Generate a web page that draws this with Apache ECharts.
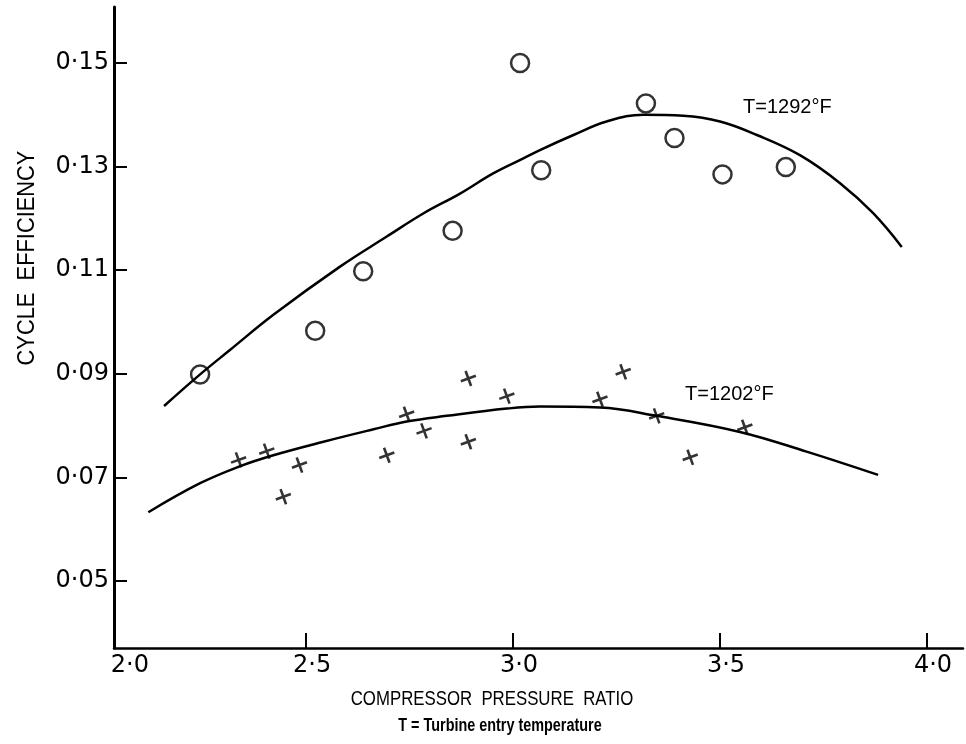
<!DOCTYPE html>
<html>
<head>
<meta charset="utf-8">
<script src="https://cdn.jsdelivr.net/npm/echarts@6/dist/echarts.min.js"></script>
<style>
  html, body { margin: 0; padding: 0; background: #fff; }
  #chart { width: 966px; height: 744px; }
</style>
</head>
<body>
<div id="chart"></div>
<script>
// measured points, T = 1292 F (circles)
const circleX = [2.244, 2.522, 2.638, 2.854, 3.017, 3.068, 3.321, 3.390, 3.506, 3.659];
const circleY = [0.0899, 0.0983, 0.1098, 0.1176, 0.1500, 0.1293, 0.1422, 0.1355, 0.1285, 0.1299];

// measured points, T = 1202 F (crosses)
const crossX = [2.337, 2.405, 2.445, 2.484, 2.695, 2.743, 2.785, 2.892, 2.892, 2.985, 3.210, 3.266, 3.347, 3.428, 3.560];
const crossY = [0.0734, 0.0751, 0.0663, 0.0724, 0.0743, 0.0822, 0.0790, 0.0891, 0.0769, 0.0857, 0.0851, 0.0904, 0.0819, 0.0739, 0.0797];

// faired curves
const curve1292X = [2.157, 2.244, 2.316, 2.421, 2.582, 2.695, 2.784, 2.872, 2.952, 3.025, 3.065, 3.146, 3.226, 3.315, 3.411, 3.500, 3.589, 3.693, 3.790, 3.870, 3.939];
const curve1292Y = [0.0838, 0.0899, 0.0946, 0.1014, 0.1107, 0.1165, 0.1210, 0.1248, 0.1287, 0.1316, 0.1332, 0.1361, 0.1387, 0.1400, 0.1398, 0.1387, 0.1361, 0.1322, 0.1268, 0.1210, 0.1145];
const curve1202X = [2.119, 2.244, 2.341, 2.421, 2.542, 2.663, 2.743, 2.840, 2.985, 3.065, 3.210, 3.347, 3.548, 3.709, 3.882];
const curve1202Y = [0.0633, 0.0689, 0.0722, 0.0743, 0.0769, 0.0793, 0.0808, 0.0819, 0.0833, 0.0837, 0.0835, 0.0819, 0.0788, 0.0750, 0.0705];

// axis ticks
const xTicks = [2.5, 3.0, 3.5, 4.0];
const xLabelPos = [2.06, 2.5, 3.0, 3.5, 4.0];   // 2.0 label sits at the corner
const yTicks = [0.05, 0.07, 0.09, 0.11, 0.13, 0.15];

const zip = (xs, ys) => xs.map((x, i) => [x, ys[i]]);
const dot = (s) => s.replace('.', '\u00b7');

const chart = echarts.init(document.getElementById('chart'));

chart.setOption({
  backgroundColor: '#fff',
  animation: false,
  grid: { left: 114, right: 3, top: 7, bottom: 96 },
  xAxis: {
    type: 'value',
    min: 2.036,
    max: 4.087,
    axisLine: { lineStyle: { color: '#000', width: 2.5 } },
    axisTick: {
      customValues: xTicks,
      inside: true,
      length: 15,
      lineStyle: { color: '#000', width: 2 }
    },
    axisLabel: {
      customValues: xLabelPos,
      margin: 6,
      padding: [0, 0, 0, 12],
      color: '#000',
      fontFamily: 'DejaVu Sans',
      fontSize: 24,
      formatter: (v) => v < 2.2 ? '2\u00b70' : dot(v.toFixed(1))
    },
    splitLine: { show: false }
  },
  yAxis: {
    type: 'value',
    min: 0.0371,
    max: 0.1608,
    axisLine: { show: true, lineStyle: { color: '#000', width: 3 } },
    axisTick: {
      show: true,
      customValues: yTicks,
      inside: true,
      length: 13,
      lineStyle: { color: '#000', width: 2 }
    },
    axisLabel: {
      customValues: yTicks,
      margin: 5,
      color: '#000',
      fontFamily: 'DejaVu Sans',
      fontSize: 24,
      formatter: (v) => dot(v.toFixed(2))
    },
    splitLine: { show: false }
  },
  series: [
    {
      name: 'T=1292',
      type: 'line',
      data: zip(curve1292X, curve1292Y),
      smooth: 0.4,
      showSymbol: false,
      lineStyle: { color: '#000', width: 2.5 }
    },
    {
      name: 'T=1202',
      type: 'line',
      data: zip(curve1202X, curve1202Y),
      smooth: 0.4,
      showSymbol: false,
      lineStyle: { color: '#000', width: 2.5 }
    },
    {
      name: 'circles',
      type: 'scatter',
      data: zip(circleX, circleY),
      symbol: 'circle',
      symbolSize: 18,
      itemStyle: { color: 'transparent', borderColor: '#000', borderWidth: 2.5 }
    },
    {
      name: 'crosses',
      type: 'scatter',
      data: zip(crossX, crossY),
      symbol: 'path://M10,0L10,20M0,10L20,10',
      symbolSize: 16,
      symbolRotate: 20,
      itemStyle: { color: 'transparent', borderColor: '#000', borderWidth: 2.6 }
    }
  ],
  graphic: [
    {
      type: 'text', left: 743, top: 97,
      style: { text: 'T=1292\u00b0F', font: '20px "Liberation Sans"', fill: '#000' }
    },
    {
      type: 'text', left: 685, top: 384,
      style: { text: 'T=1202\u00b0F', font: '20px "Liberation Sans"', fill: '#000' }
    },
    {
      type: 'text', x: 492, y: 699, scaleX: 0.8,
      style: { text: 'COMPRESSOR  PRESSURE  RATIO', font: '21px "Liberation Sans"', fill: '#000', align: 'center', verticalAlign: 'middle' }
    },
    {
      type: 'text', x: 500, y: 726, scaleX: 0.8,
      style: { text: 'T = Turbine entry temperature', font: 'bold 18px "Liberation Sans"', fill: '#000', align: 'center', verticalAlign: 'middle' }
    },
    {
      type: 'text', x: 28, y: 258, rotation: Math.PI / 2, scaleX: 0.95,
      style: { text: 'CYCLE  EFFICIENCY', font: '23px "Liberation Sans"', fill: '#000', align: 'center', verticalAlign: 'middle' }
    }
  ]
});
</script>
</body>
</html>
